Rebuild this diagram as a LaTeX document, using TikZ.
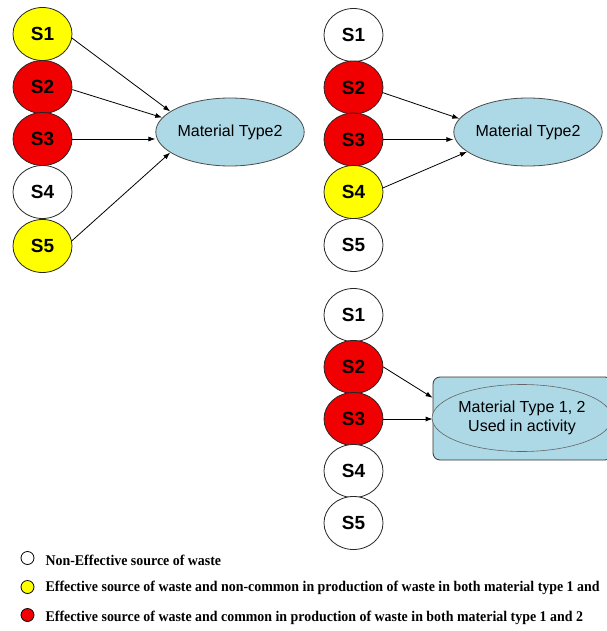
\documentclass[tikz,border=0pt]{standalone}
\usepackage{fontspec}
\setmainfont{Liberation Sans}
\newfontfamily\legendfont[FakeStretch=0.94]{Liberation Serif}
\usetikzlibrary{shapes.geometric,positioning,arrows.meta}
\definecolor{srcred}{RGB}{240,0,0}
\definecolor{srcyellow}{RGB}{255,255,0}
\definecolor{mtblue}{RGB}{173,216,230}

\begin{document}
\begin{tikzpicture}[x=1pt,y=-1pt,
	src/.style={ellipse,draw=black!85,line width=0.8pt,minimum width=59pt,minimum height=53pt,inner sep=0pt,
		font=\fontsize{19}{19}\selectfont\bfseries},
	mat/.style={ellipse,draw=black!70,line width=0.8pt,fill=mtblue,minimum width=134pt,minimum height=68pt,
		inner sep=0pt,font=\fontsize{16}{19}\selectfont},
	arr/.style={-{Latex[length=7pt,width=5pt]},line width=0.8pt},
	legdot/.style={circle,draw=black,line width=0.8pt,minimum size=13pt,inner sep=0pt},
	legtext/.style={inner sep=0pt,anchor=west,font=\legendfont\bfseries\fontsize{14.8}{14.8}\selectfont}]
	\useasboundingbox (0,0) rectangle (606,631);

	% left: material type 2
	\node[src,fill=srcyellow] (a1) at (42.5,34) {S1};
	\node[src,fill=srcred] (a2) at (42.5,87) {S2};
	\node[src,fill=srcred] (a3) at (42.5,139) {S3};
	\node[src,fill=white] (a4) at (42.5,192) {S4};
	\node[src,fill=srcyellow] (a5) at (42.5,246) {S5};
	\node[mat] (mtA) at (230,132) {Material Type2};
	\draw[arr] (a1.-8) -- (mtA.161);
	\draw[arr] (a2.-5) -- (mtA.168);
	\draw[arr] (a3.east) -- (a3.east -| mtA.west);
	\draw[arr] (a5.10) -- (mtA.199);

	% right: material type 2
	\node[src,fill=white] (b1) at (353.5,35) {S1};
	\node[src,fill=srcred] (b2) at (353.5,87.5) {S2};
	\node[src,fill=srcred] (b3) at (353.5,139.5) {S3};
	\node[src,fill=srcyellow] (b4) at (353.5,192) {S4};
	\node[src,fill=white] (b5) at (353.5,245) {S5};
	\node[mat] (mtB) at (528,132) {Material Type2};
	\draw[arr] (b2.-10) -- (mtB.169);
	\draw[arr] (b3.east) -- (b3.east -| mtB.west);
	\draw[arr] (b4.8) -- (mtB.198);

	% bottom: material type 1 and 2
	\node[src,fill=white] (c1) at (353.5,315) {S1};
	\node[src,fill=srcred] (c2) at (353.5,367) {S2};
	\node[src,fill=srcred] (c3) at (353.5,419) {S3};
	\node[src,fill=white] (c4) at (353.5,471) {S4};
	\node[src,fill=white] (c5) at (353.5,523) {S5};
	\node[rectangle,rounded corners=7pt,draw=black!80,line width=0.8pt,fill=mtblue,
		minimum width=179pt,minimum height=83pt] (act) at (522.5,418.5) {};
	\node[mat,draw=black!60,line width=0.6pt,minimum width=161pt,minimum height=67pt,align=center]
		(actin) at (522,418) {Material Type 1, 2\\Used in activity};
	\draw[arr] (c2.east) -- (act.167);
	\draw[arr] (c3.east) -- (c3.east -| act.west);

	% legend
	\node[legdot,fill=white] (l1) at (27.5,558) {};
	\node[legdot,fill=srcyellow] (l2) at (27.5,587) {};
	\node[legdot,fill=srcred] (l3) at (27.5,615) {};
	\node[legtext,right=11pt of l1,yshift=-2pt] (t1) {Non-Effective source of waste};
	\node[legtext,right=11pt of l2,yshift=-1pt] (t2) {Effective source of waste and non-common in production of waste in both material type 1 and};
	\node[legtext,right=11pt of l3,yshift=-3pt] (t3) {Effective source of waste and common in production of waste in both material type 1 and 2};
\end{tikzpicture}
\end{document}
